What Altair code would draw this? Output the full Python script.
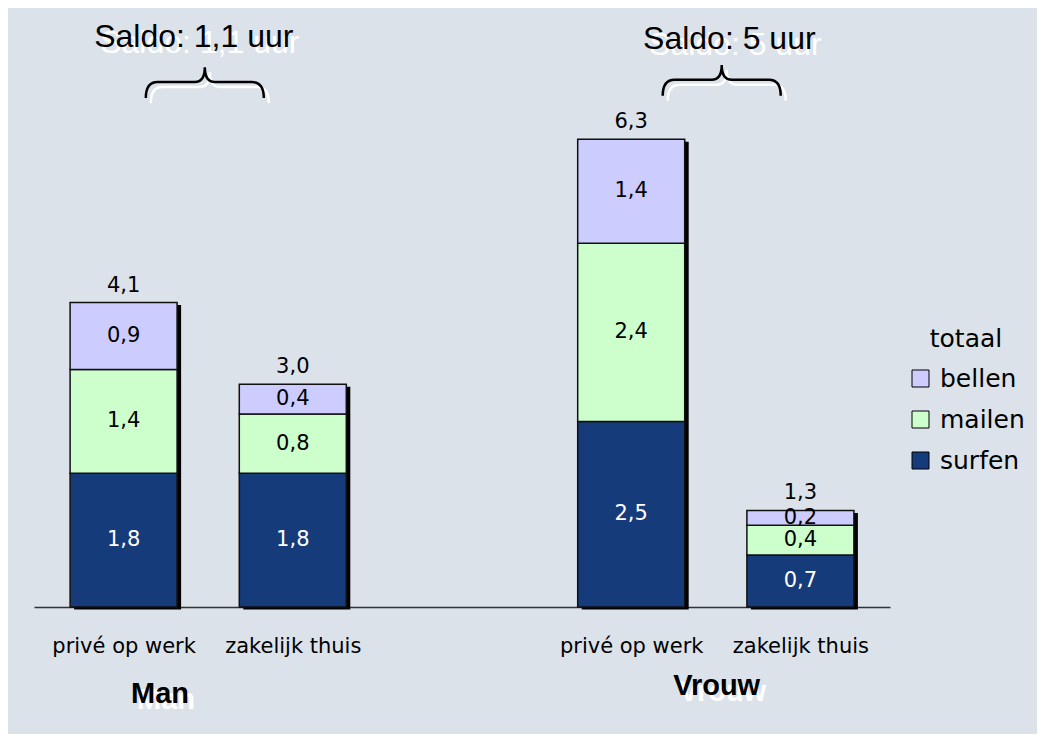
import altair as alt
import pandas as pd

# ---- data ----
groups = ["Man", "Man", "Vrouw", "Vrouw"]
types = ["privé op werk", "zakelijk thuis", "privé op werk", "zakelijk thuis"]
surfen = [1.8, 1.8, 2.5, 0.7]
mailen = [1.4, 0.8, 2.4, 0.4]
bellen = [0.9, 0.4, 1.4, 0.2]
totaal = [4.1, 3.0, 6.3, 1.3]

activities = ["bellen", "mailen", "surfen"]          # legend order
stack_order = ["surfen", "mailen", "bellen"]          # bottom -> top
colors = ["#ccccff", "#ccffcc", "#163b7a"]

group_names = ["Man", "Vrouw"]
saldo_labels = ["Saldo: 1,1 uur", "Saldo: 5 uur"]


def fmt(v):
    return f"{v:.1f}".replace(".", ",")


# bar positions: two bars per group, one empty slot between groups
type_names = ["privé op werk", "zakelijk thuis"]
pos = [group_names.index(g) * 3 + type_names.index(t) for g, t in zip(groups, types)]

series = {"surfen": surfen, "mailen": mailen, "bellen": bellen}
rows = []
for i in range(len(groups)):
    base = 0.0
    for act in stack_order:
        v = series[act][i]
        rows.append({"pos": pos[i], "activity": act, "start": base, "end": base + v,
                     "mid": base + v / 2, "label": fmt(v)})
        base += v
seg = pd.DataFrame(rows)

tot = pd.DataFrame({"pos": pos, "total": totaal, "base": [0] * 4,
                    "label": [fmt(v) for v in totaal]})

# annotation anchors (data coordinates)
saldo_df = pd.DataFrame({"pos": [0.415, 3.58], "yv": [7.54, 7.52], "txt": saldo_labels})
group_df = pd.DataFrame({"pos": [0.215, 3.505], "yv": [-1.29, -1.185], "txt": group_names})
brace_df = pd.DataFrame({"pos": [0.48, 3.535], "yv": [7.07, 7.10]})

brace_path = ("M -1 0.27 Q -1 0 -0.8 0 L -0.17 0 Q 0 0 0 -0.25 "
              "Q 0 0 0.17 0 L 0.8 0 Q 1 0 1 0.27")

label_expr = " : ".join(
    [f"datum.value == {p} ? '{t}'" for p, t in zip(pos, types)]) + " : ''"

X = alt.X("pos:Q",
          scale=alt.Scale(domain=[-0.5, 4.5], nice=False, zero=False),
          axis=alt.Axis(values=pos, labelExpr=label_expr, title=None, grid=False,
                        ticks=False, tickSize=0, domainColor="#333333", domainWidth=1.5,
                        labelFont="DejaVu Sans", labelFontSize=21, labelColor="black",
                        labelPadding=45, labelBaseline="alphabetic", labelFlush=False,
                        labelOverlap=False, labelBound=False))


def Y(field):
    return alt.Y(field, scale=alt.Scale(domain=[0, 8], nice=False, zero=False), axis=None)


shadow = alt.Chart(tot).mark_bar(width=107, color="black", xOffset=4, yOffset=2.5,
                                 y2Offset=2.5).encode(x=X, y=Y("total:Q"), y2="base:Q")

bars = alt.Chart(seg).mark_bar(width=107, stroke="#111111", strokeWidth=1.5).encode(
    x=X, y=Y("start:Q"), y2="end:Q",
    color=alt.Color("activity:N",
                    scale=alt.Scale(domain=activities, range=colors),
                    legend=alt.Legend(title="totaal", orient="none", legendX=874, legendY=314,
                                      padding=0, titleFont="DejaVu Sans", titleFontSize=25,
                                      titleFontWeight="normal", titleColor="black",
                                      titleAnchor="middle", titlePadding=14,
                                      labelFont="DejaVu Sans", labelFontSize=25,
                                      labelColor="black", labelOffset=7,
                                      symbolType="square", symbolSize=289,
                                      symbolStrokeColor="black", symbolStrokeWidth=1,
                                      symbolOpacity=1, rowPadding=15)),
    order=alt.Order("start:Q"),
)

seg_labels = alt.Chart(seg).mark_text(font="DejaVu Sans", fontSize=21, baseline="middle").encode(
    x=X, y=Y("mid:Q"), text="label:N",
    color=alt.condition(alt.datum.activity == "surfen", alt.value("white"), alt.value("black")),
)

tot_labels = alt.Chart(tot).mark_text(font="DejaVu Sans", fontSize=21, baseline="alphabetic",
                                      dy=-11, color="black").encode(
    x=X, y=Y("total:Q"), text="label:N")

saldo_shadow = alt.Chart(saldo_df).mark_text(font="Liberation Sans", fontSize=32,
                                             baseline="alphabetic", color="white",
                                             dx=6, dy=6).encode(x=X, y=Y("yv:Q"), text="txt:N")
saldo_text = alt.Chart(saldo_df).mark_text(font="Liberation Sans", fontSize=32,
                                           baseline="alphabetic", color="black").encode(
    x=X, y=Y("yv:Q"), text="txt:N")

group_shadow = alt.Chart(group_df).mark_text(font="Liberation Sans", fontSize=29,
                                             fontWeight="bold", baseline="alphabetic",
                                             color="white", dx=6, dy=6).encode(
    x=X, y=Y("yv:Q"), text="txt:N")
group_text = alt.Chart(group_df).mark_text(font="Liberation Sans", fontSize=29,
                                           fontWeight="bold", baseline="alphabetic",
                                           color="black").encode(
    x=X, y=Y("yv:Q"), text="txt:N")

brace_shadow = alt.Chart(brace_df).mark_point(shape=brace_path, size=13924, filled=False,
                                              stroke="white", strokeWidth=2.5, opacity=1,
                                              xOffset=5, yOffset=5).encode(x=X, y=Y("yv:Q"))
brace = alt.Chart(brace_df).mark_point(shape=brace_path, size=13924, filled=False,
                                       stroke="black", strokeWidth=2.5, opacity=1).encode(
    x=X, y=Y("yv:Q"))

chart = alt.layer(
    shadow, bars, seg_labels, tot_labels,
    saldo_shadow, saldo_text, group_shadow, group_text, brace_shadow, brace,
).properties(
    width=856, height=594,
    autosize=alt.AutoSizeParams(type="none"),
    padding={"left": 26, "top": 5, "right": 147, "bottom": 127},
    background="#dbe2ea",
).configure_view(stroke=None)

chart.save("out.html", embed_options={"renderer": "svg", "actions": False})
